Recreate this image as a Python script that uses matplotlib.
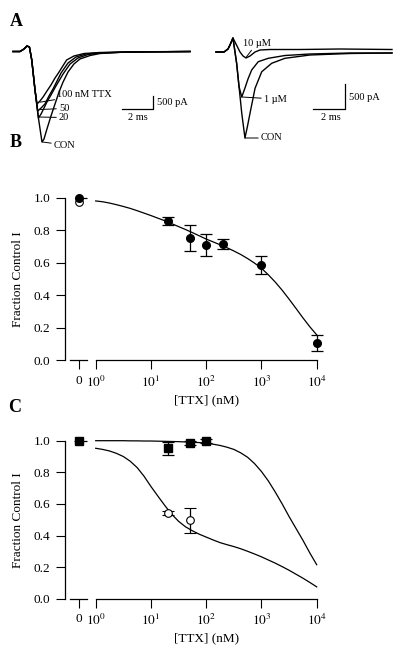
import numpy as np
import matplotlib.pyplot as plt

plt.rcParams['font.family'] = ['Liberation Serif', 'DejaVu Serif']
plt.rcParams['mathtext.fontset'] = 'stix'

# ---- Panel A, left: TTX traces (time in ms, current in pA) ----
pre_t_left = [0, 0.45, 0.71, 0.90, 1.06, 1.21, 1.42]
pre_i_left = [0, 0, 96, 212, 173, -327, -1481]

con_t_left = [1.64, 1.87, 2.0, 2.19, 2.45, 2.71, 2.97, 3.23, 3.55, 3.93, 4.32, 4.97, 5.61, 6.90, 8.84, 11.42]
con_i_left = [-2558, -3481, -3365, -2981, -2481, -2019, -1558, -1173, -788, -481, -288, -154, -77, -31, -12, 0]
ttx20_t = [1.64, 1.81, 2.0, 2.19, 2.45, 2.77, 3.23, 3.68, 4.19, 4.84, 5.61, 7.55, 11.42]
ttx20_i = [-2558, -2404, -2173, -1942, -1673, -1327, -865, -481, -250, -115, -58, -19, 0]
ttx50_t = [1.60, 1.81, 2.06, 2.32, 2.58, 2.84, 3.10, 3.55, 4.06, 4.71, 5.61, 7.55, 11.42]
ttx50_i = [-2288, -2173, -2019, -1711, -1442, -1135, -827, -442, -212, -96, -50, -19, 0]
ttx100_t = [1.55, 1.74, 1.94, 2.19, 2.45, 2.71, 2.93, 3.46, 3.93, 4.58, 5.61, 7.55, 11.42]
ttx100_i = [-2019, -1904, -1750, -1519, -1288, -1019, -827, -327, -173, -77, -38, -12, 0]

# ---- Panel A, right ----
pre_t_right = [0, 0.5, 0.75, 0.875, 1.06]
pre_i_right = [0, 0, 60, 140, 280]
um10_t = [1.25, 1.5, 1.69, 1.875, 2.125, 2.44, 2.75, 3.375, 5.25, 7.75, 11.0]
um10_i = [160, 0, -80, -120, -80, 0, 40, 50, 50, 60, 50]
um1_t = [1.29, 1.44, 1.61, 1.81, 2.0, 2.23, 2.64, 3.27, 4.31, 5.875, 8.375, 11.0]
um1_i = [-226, -694, -900, -720, -540, -360, -194, -126, -70, -40, -20, -20]
con_t_right = [1.29, 1.44, 1.61, 1.81, 1.97, 2.125, 2.44, 2.86, 3.48, 4.31, 5.875, 8.375, 11.0]
con_i_right = [-226, -694, -1226, -1720, -1480, -1226, -726, -394, -226, -126, -60, -30, -20]

# ---- Panel B ----
b_conc = [20, 50, 100, 200, 1000, 10000]
b_frac = [0.858, 0.75, 0.709, 0.713, 0.585, 0.107]
b_err = [0.026, 0.08, 0.07, 0.031, 0.054, 0.049]
b_zero_filled = 1.0
b_zero_open = 0.975

fit_conc = [1, 1.33, 1.78, 2.37, 3.16, 4.22, 5.62, 7.50, 10, 13.3, 17.8, 23.7,
            31.6, 42.2, 56.2, 75.0, 100, 133, 178, 237, 316, 422, 562, 750,
            1000, 1334, 1778, 2371, 3162, 4217, 5623, 7499, 10000]
b_fit = [0.98, 0.975, 0.967, 0.957, 0.946, 0.934, 0.92, 0.905, 0.89, 0.874,
         0.858, 0.84, 0.822, 0.804, 0.785, 0.765, 0.745, 0.728, 0.71, 0.692,
         0.672, 0.65, 0.625, 0.597, 0.565, 0.525, 0.48, 0.43, 0.375, 0.318,
         0.26, 0.205, 0.155]

# ---- Panel C ----
c_sq_conc = [20, 50, 100]
c_sq_frac = [0.952, 0.983, 0.998]
c_sq_err = [0.042, 0.012, 0.01]
c_open_conc = [20, 50]
c_open_frac = [0.544, 0.495]
c_open_err = [0.012, 0.077]
c_zero_sq = 1.0
c_fit_upper = [1.0, 1.0, 1.0, 1.0, 1.0, 0.999, 0.999, 0.998, 0.998, 0.997,
               0.996, 0.995, 0.994, 0.992, 0.99, 0.988, 0.985, 0.978, 0.97,
               0.959, 0.945, 0.923, 0.895, 0.855, 0.805, 0.745, 0.675, 0.6,
               0.52, 0.445, 0.37, 0.29, 0.215]
c_fit_lower = [0.952, 0.945, 0.935, 0.92, 0.90, 0.87, 0.83, 0.775, 0.71, 0.65,
               0.59, 0.535, 0.49, 0.455, 0.43, 0.408, 0.39, 0.372, 0.355, 0.342,
               0.33, 0.316, 0.30, 0.283, 0.265, 0.245, 0.225, 0.203, 0.18,
               0.155, 0.13, 0.103, 0.075]

W, H = 400, 651
fig = plt.figure(figsize=(W / 100, H / 100), dpi=100)


def box(x0, y0, x1, y1):
    # pixel box -> figure fraction
    return [x0 / W, 1 - y1 / H, (x1 - x0) / W, (y1 - y0) / H]


LBL = 7.5
TXT = 9.5

# ---------- A left ----------
ax = fig.add_axes(box(13, 35, 190, 150))
ax.set_xlim(0, 11.42)
ax.set_ylim(-3788, 635)
ax.axis('off')
for tt, ii in [(con_t_left, con_i_left), (ttx20_t, ttx20_i),
               (ttx50_t, ttx50_i), (ttx100_t, ttx100_i)]:
    ax.plot(pre_t_left + tt, pre_i_left + ii, color='k', lw=1.0, clip_on=False)
lead = dict(arrowstyle='-', lw=0.7, color='k', shrinkA=0, shrinkB=0)
ax.annotate('100 nM TTX', xy=(1.74, -1950), xytext=(2.87, -1654), fontsize=LBL,
            va='center', ha='left', arrowprops=lead)
ax.annotate('50', xy=(1.74, -2230), xytext=(2.97, -2192), fontsize=LBL,
            va='center', ha='left', arrowprops=lead)
ax.annotate('20', xy=(1.68, -2520), xytext=(2.97, -2538), fontsize=LBL,
            va='center', ha='left', arrowprops=lead)
ax.annotate('CON', xy=(1.9, -3480), xytext=(2.64, -3596), fontsize=LBL,
            va='center', ha='left', arrowprops=lead)
ax.plot([7.03, 9.03, 9.03], [-2211, -2211, -1711], color='k', lw=0.9)
ax.text(9.29, -1942, '500 pA', fontsize=LBL, va='center', ha='left')
ax.text(8.03, -2519, '2 ms', fontsize=LBL, va='center', ha='center')

# ---------- A right ----------
ax = fig.add_axes(box(216, 30, 392, 145))
ax.set_xlim(0, 11)
ax.set_ylim(-1860, 440)
ax.axis('off')
for tt, ii in [(con_t_right, con_i_right), (um1_t, um1_i), (um10_t, um10_i)]:
    ax.plot(pre_t_right + tt, pre_i_right + ii, color='k', lw=1.0, clip_on=False)
ax.annotate('10 \u00b5M', xy=(1.875, -110), xytext=(1.69, 180), fontsize=LBL,
            va='center', ha='left', arrowprops=lead)
ax.annotate('1 \u00b5M', xy=(1.61, -900), xytext=(3.0, -940), fontsize=LBL,
            va='center', ha='left', arrowprops=lead)
ax.annotate('CON', xy=(1.81, -1720), xytext=(2.81, -1720), fontsize=LBL,
            va='center', ha='left', arrowprops=lead)
ax.plot([6.06, 8.06, 8.06], [-1140, -1140, -640], color='k', lw=0.9)
ax.text(8.31, -900, '500 pA', fontsize=LBL, va='center', ha='left')
ax.text(7.19, -1320, '2 ms', fontsize=LBL, va='center', ha='center')


# ---------- dose-response panels ----------
def dose_axes(y_top, y_bot):
    ax0 = fig.add_axes(box(65, y_top, 87, y_bot))
    axl = fig.add_axes(box(95.7, y_top, 316.7, y_bot))
    for a in (ax0, axl):
        a.set_facecolor('none')
        a.set_ylim(0, 1)
        a.spines['top'].set_visible(False)
        a.spines['right'].set_visible(False)
        a.tick_params(direction='out', length=6.5, width=0.8, labelsize=TXT, pad=4)
        for s in a.spines.values():
            s.set_linewidth(0.9)
    ax0.set_xlim(-1.4, 0.8)
    ax0.spines['bottom'].set_bounds(-0.9, 0.8)
    ax0.set_xticks([0])
    ax0.set_xticklabels(['0'])
    ax0.set_yticks(np.arange(0, 1.01, 0.2))
    ax0.set_yticklabels(['%.1f' % v for v in np.arange(0, 1.01, 0.2)])
    ax0.set_ylabel('Fraction Control I', fontsize=TXT, labelpad=7)

    axl.set_xscale('log')
    axl.set_xlim(1, 1e4)
    axl.spines['left'].set_visible(False)
    axl.set_yticks([])
    axl.set_xticks([1, 10, 100, 1000, 10000])
    axl.set_xticklabels([r'$10^{%d}$' % k for k in range(5)])
    axl.minorticks_off()
    axl.set_xlabel('[TTX] (nM)', fontsize=TXT, labelpad=3)
    return ax0, axl


eb = dict(color='k', ecolor='k', elinewidth=0.9, capsize=4.5, capthick=0.9,
          linestyle='none', clip_on=False)

# B
ax0, axl = dose_axes(197.7, 360)
ax0.hlines(1.0, -0.4, 0.8, color='k', lw=0.9, clip_on=False)
ax0.plot([0], [b_zero_open], 'o', ms=5.5, mfc='white', mec='k', mew=0.8,
         clip_on=False, zorder=3)
ax0.plot([0], [b_zero_filled], 'o', ms=5.5, color='k', clip_on=False, zorder=4)
axl.plot(fit_conc, b_fit, color='k', lw=0.9, clip_on=False)
axl.errorbar(b_conc, b_frac, yerr=b_err, fmt='o', ms=5.5, zorder=4, **eb)

# C
ax0, axl = dose_axes(440.7, 598.7)
ax0.hlines(1.0, -0.5, 0.8, color='k', lw=0.9, clip_on=False)
ax0.plot([0], [c_zero_sq], 's', ms=5.3, color='k', clip_on=False, zorder=4)
axl.plot(fit_conc, c_fit_upper, color='k', lw=0.9, clip_on=False)
axl.plot(fit_conc, c_fit_lower, color='k', lw=0.9, clip_on=False)
axl.errorbar(c_sq_conc, c_sq_frac, yerr=c_sq_err, fmt='s', ms=5.3, zorder=4, **eb)
axl.errorbar(c_open_conc, c_open_frac, yerr=c_open_err, fmt='o', ms=5.5,
             mfc='white', mec='k', mew=0.8, zorder=4, **eb)

# panel letters
for letter, px, py in [('A', 10, 21), ('B', 10, 142.5), ('C', 8, 408)]:
    fig.text(px / W, 1 - py / H, letter, fontsize=13, fontweight='bold',
             ha='left', va='center')

fig.savefig('out.png', dpi=100)
